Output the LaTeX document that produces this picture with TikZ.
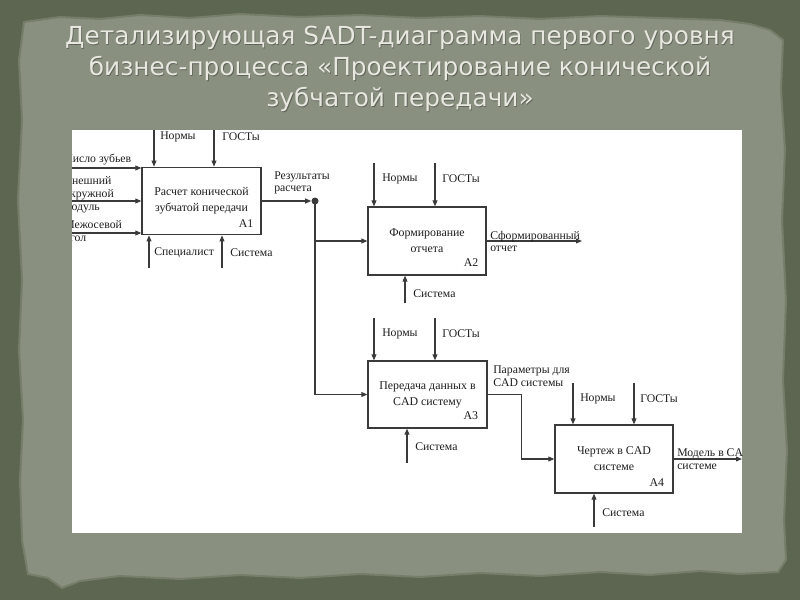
\documentclass[tikz,border=0pt]{standalone}
\usepackage{fontspec}
\setmainfont{Liberation Serif}
\newfontfamily\ttlfont{DejaVu Sans}
\usetikzlibrary{arrows.meta}
\definecolor{outerbg}{HTML}{5C6650}
\definecolor{innerbg}{HTML}{899080}
\definecolor{edgec}{HTML}{767E6A}
\definecolor{linec}{HTML}{3A3A3A}
\definecolor{txtc}{HTML}{1E1E1E}
\definecolor{ttlc}{HTML}{E8E8E1}
\newcommand\dgboxfont{\fontsize{8.9}{12}\selectfont}
\newcommand\dglabfont{\fontsize{8.8}{9.6}\selectfont}
\begin{document}
\begin{tikzpicture}[x=0.75pt,y=-0.75pt,
  ln/.style={draw=linec, line width=0.8pt},
  arr/.style={ln, -{Triangle[length=4.5pt,width=3.6pt]}},
  box/.style={draw=linec, line width=0.9pt, fill=white, align=center, font=\dgboxfont, text=txtc, inner sep=0pt},
  lab/.style={font=\dglabfont, text=txtc, inner sep=0pt, anchor=west, align=left},
  anum/.style={font=\dgboxfont, text=txtc, inner sep=0pt, anchor=east},
  ttl/.style={font=\ttlfont\fontsize{18.6}{23.25}\selectfont, align=center},
  ]
% background
\fill[outerbg] (0,0) rectangle (800,600);
\fill[innerbg, draw=edgec, line width=1.5pt]
 (24,22) -- (60,17) -- (100,19) -- (140,15) -- (190,18) -- (240,14) -- (300,17) -- (360,15)
 -- (420,18) -- (480,16) -- (540,19) -- (600,16) -- (660,18) -- (720,20) -- (750,24) -- (770,30)
 -- (783,40) -- (781,90) -- (785,150) -- (782,220) -- (786,300) -- (783,380) -- (787,450)
 -- (784,520) -- (786,560) -- (778,572) -- (740,574) -- (700,571) -- (650,575) -- (600,572)
 -- (540,576) -- (480,573) -- (420,577) -- (360,574) -- (300,578) -- (240,575) -- (180,579)
 -- (120,576) -- (80,581) -- (62,588) -- (48,578) -- (28,574) -- (22,540) -- (20,480)
 -- (23,420) -- (19,350) -- (22,280) -- (18,200) -- (22,120) -- (19,60) -- cycle;
% title
\node[ttl, text=black, opacity=0.3] at (400.8,69.8)
 {Детализирующая SADT-диаграмма первого уровня\\бизнес-процесса «Проектирование конической\\зубчатой передачи»};
\node[ttl, text=ttlc] (title) at (400,69)
 {Детализирующая SADT-диаграмма первого уровня\\бизнес-процесса «Проектирование конической\\зубчатой передачи»};
% white panel
\fill[white] (72,130) rectangle (742,533);
\begin{scope}
\clip (72,130) rectangle (742,533);
% boxes
\node[box, minimum width=119*0.75pt, minimum height=67.5*0.75pt] (A1) at (201.5,201) {Расчет конической\\зубчатой передачи};
\node[box, minimum width=118*0.75pt, minimum height=68*0.75pt] (A2) at (427,241) {Формирование\\отчета};
\node[box, minimum width=119*0.75pt, minimum height=67*0.75pt] (A3) at (427.5,394.5) {Передача данных в\\CAD систему};
\node[box, minimum width=118*0.75pt, minimum height=68*0.75pt] (A4) at (614,459) {Чертеж в CAD\\системе};
\node[anum] (A1n) at ([xshift=-6pt,yshift=9pt]A1.south east) {A1};
\node[anum] (A2n) at ([xshift=-6pt,yshift=9.5pt]A2.south east) {A2};
\node[anum] (A3n) at ([xshift=-7pt,yshift=9.5pt]A3.south east) {A3};
\node[anum] (A4n) at ([xshift=-7pt,yshift=8pt]A4.south east) {A4};
% A1 arrows
\coordinate (c1a) at (154,130); \coordinate (c1b) at (214,130);
\draw[arr] (c1a) -- (c1a |- A1.north);
\draw[arr] (c1b) -- (c1b |- A1.north);
\coordinate (i1a) at (60,168); \coordinate (i1b) at (60,201); \coordinate (i1c) at (60,233);
\draw[arr] (i1a) -- (i1a -| A1.west);
\draw[arr] (i1b) -- (i1b -| A1.west);
\draw[arr] (i1c) -- (i1c -| A1.west);
\coordinate (m1a) at (149,268); \coordinate (m1b) at (222,268);
\draw[arr] (m1a) -- (m1a |- A1.south);
\draw[arr] (m1b) -- (m1b |- A1.south);
\node[circle, fill=linec, inner sep=0pt, minimum size=7*0.75pt] (d) at (315,201) {};
\draw[arr] (A1.east) -- (d.west);
\draw[arr] (d.center) |- (A2.west);
\draw[arr] (d.center) |- (A3.west);
% A2 arrows
\coordinate (c2a) at (374,163); \coordinate (c2b) at (435,163);
\draw[arr] (c2a) -- (c2a |- A2.north);
\draw[arr] (c2b) -- (c2b |- A2.north);
\coordinate (m2) at (405,303);
\draw[arr] (m2) -- (m2 |- A2.south);
\coordinate (o2) at (582,241);
\draw[arr] (A2.east) -- (A2.east -| o2);
% A3 arrows
\coordinate (c3a) at (374,318); \coordinate (c3b) at (435,318);
\draw[arr] (c3a) -- (c3a |- A3.north);
\draw[arr] (c3b) -- (c3b |- A3.north);
\coordinate (m3) at (407,463);
\draw[arr] (m3) -- (m3 |- A3.south);
\draw[arr] (A3.east) -- ++(34,0) |- (A4.west);
% A4 arrows
\coordinate (c4a) at (573,383); \coordinate (c4b) at (634,383);
\draw[arr] (c4a) -- (c4a |- A4.north);
\draw[arr] (c4b) -- (c4b |- A4.north);
\coordinate (m4) at (594,527);
\draw[arr] (m4) -- (m4 |- A4.south);
\coordinate (o4) at (742,459);
\draw[arr] (A4.east) -- (A4.east -| o4);
% labels
\node[lab] (l1) at (160,137) {Нормы};
\node[lab] (l2) at (222,137) {ГОСТы};
\node[lab] (l3) at (65,160) {Число зубьев};
\node[lab] (l4) at (64,194.5) {Внешний\\окружной\\модуль};
\node[lab] (l5) at (64,232.5) {Межосевой\\угол};
\node[lab] (l6) at (154,253) {Специалист};
\node[lab] (l7) at (230,253) {Система};
\node[lab] (l8) at (274,183) {Результаты\\расчета};
\node[lab] (l9) at (382,179) {Нормы};
\node[lab] (l10) at (442,179) {ГОСТы};
\node[lab] (l11) at (490,241.5) {Сформированный\\отчет};
\node[lab] (l12) at (413,294) {Система};
\node[lab] (l13) at (382,334) {Нормы};
\node[lab] (l14) at (442,334) {ГОСТы};
\node[lab] (l15) at (493,376) {Параметры для\\CAD системы};
\node[lab] (l16) at (415,447) {Система};
\node[lab] (l17) at (580,399) {Нормы};
\node[lab] (l18) at (640,399) {ГОСТы};
\node[lab] (l19) at (677,459) {Модель в CAD\\системе};
\node[lab] (l20) at (602,513) {Система};
\end{scope}
\end{tikzpicture}
\end{document}
